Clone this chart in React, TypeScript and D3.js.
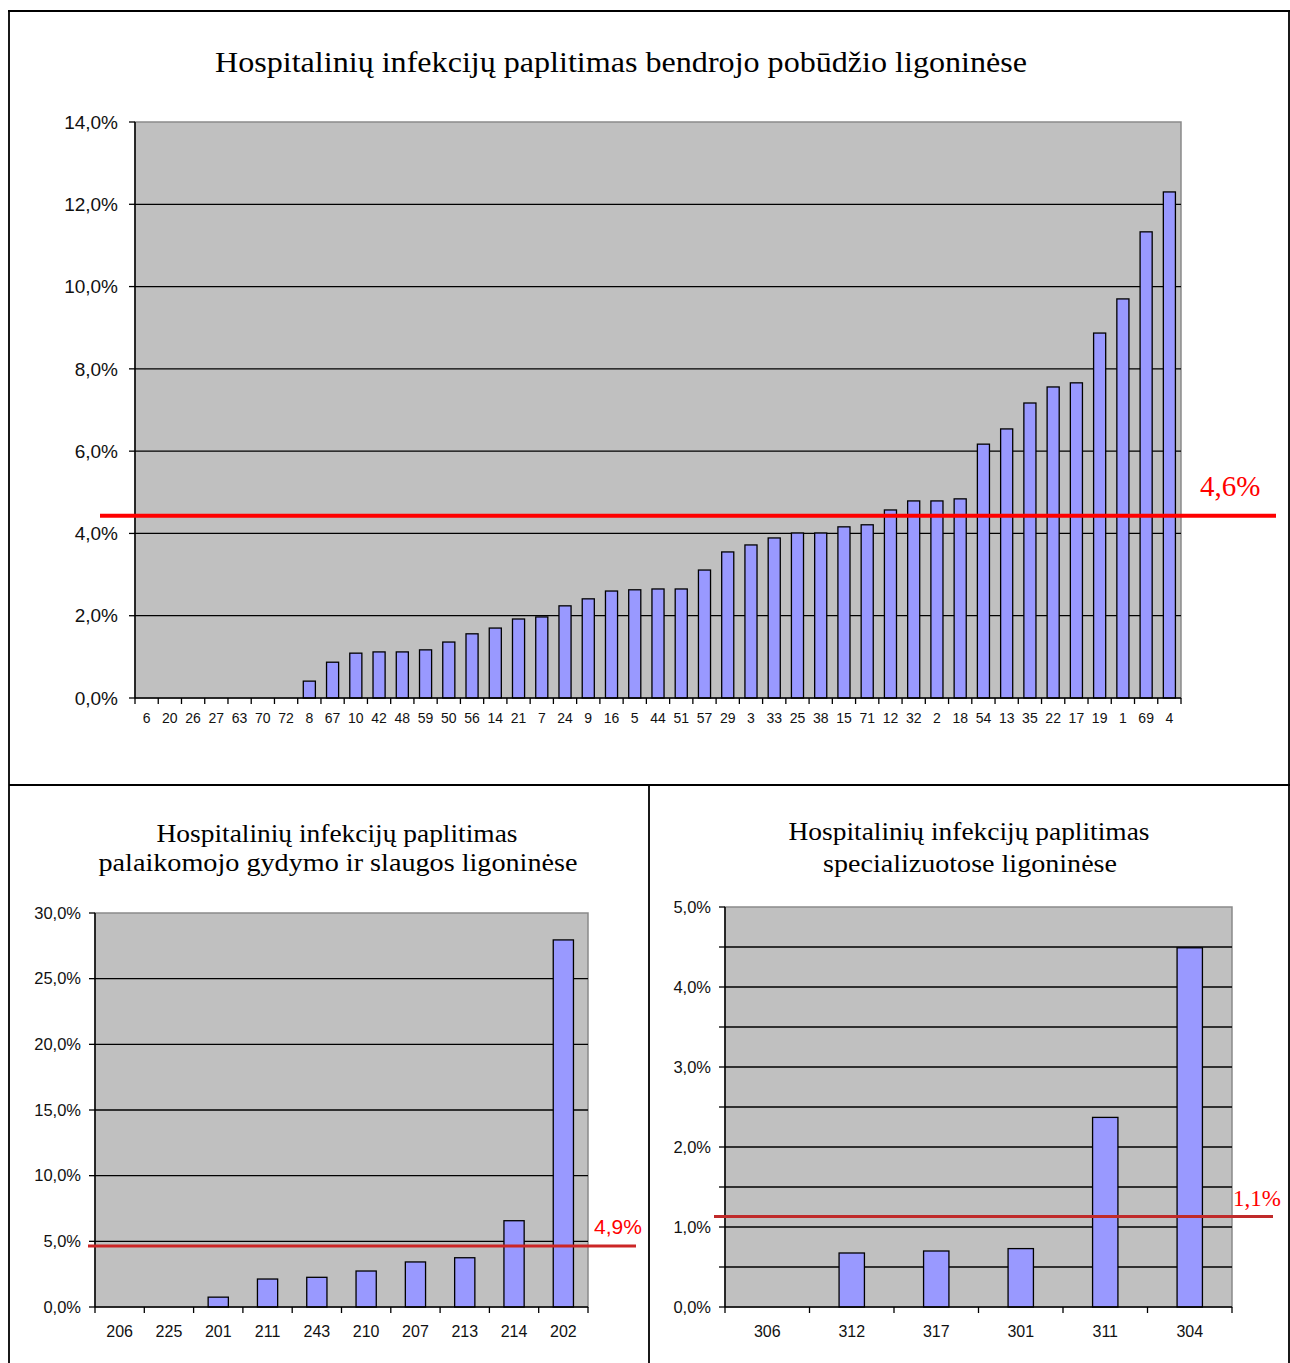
import * as d3 from 'd3';
import React from 'react';

// bendrojo pobūdžio ligoninės
const generalHospitals = ['6', '20', '26', '27', '63', '70', '72', '8', '67', '10', '42', '48', '59', '50', '56', '14', '21', '7', '24', '9', '16', '5', '44', '51', '57', '29', '3', '33', '25', '38', '15', '71', '12', '32', '2', '18', '54', '13', '35', '22', '17', '19', '1', '69', '4'];
const generalRates = [0, 0, 0, 0, 0, 0, 0, 0.41, 0.87, 1.09, 1.12, 1.12, 1.17, 1.36, 1.56, 1.7, 1.92, 1.97, 2.24, 2.41, 2.6, 2.63, 2.65, 2.65, 3.11, 3.55, 3.72, 3.89, 4.01, 4.01, 4.16, 4.21, 4.57, 4.79, 4.79, 4.84, 6.17, 6.54, 7.17, 7.56, 7.66, 8.87, 9.7, 11.33, 12.3];
const generalTicks = [0, 2, 4, 6, 8, 10, 12, 14];

// palaikomojo gydymo ir slaugos ligoninės
const nursingHospitals = ['206', '225', '201', '211', '243', '210', '207', '213', '214', '202'];
const nursingRates = [0, 0, 0.75, 2.13, 2.26, 2.74, 3.43, 3.75, 6.57, 27.95];
const nursingTicks = [0, 5, 10, 15, 20, 25, 30];

// specializuotos ligoninės
const specialHospitals = ['306', '312', '317', '301', '311', '304'];
const specialRates = [0, 0.675, 0.7, 0.73, 2.37, 4.49];
const specialTicks = [0, 0.5, 1, 1.5, 2, 2.5, 3, 3.5, 4, 4.5, 5];

// vidurkio linijos (label, drawn position)
const averages = [
  { label: '4,6%', at: 4.43 },
  { label: '4,9%', at: 4.65 },
  { label: '1,1%', at: 1.13 },
];

const fmt = (v: number) => d3.format('.1f')(v).replace('.', ',') + '%';

interface IPanel {
  categories: string[];
  values: number[];
  ticks: number[];
  labelEvery?: number;
  box: { x0: number; x1: number; y0: number; y1: number };
  pad: number;
  yFont: number;
  xFont: number;
  xLabelY: number;
  yLabelGap: number;
  avg: { label: string; at: number };
  avgLine: { x0: number; x1: number; width: number; color: string };
  avgText: { x: number; y: number; size: number; family: string };
}

const BarPanel: React.FC<IPanel> = ({ categories, values, ticks, labelEvery = 1, box, pad, yFont, xFont, xLabelY, yLabelGap, avg, avgLine, avgText }) => {
  const x = d3.scaleBand().domain(categories).range([box.x0, box.x1]).paddingInner(pad).paddingOuter(pad / 2);
  const y = d3.scaleLinear().domain([0, d3.max(ticks) as number]).range([box.y1, box.y0]);
  const step = x.step();
  const sans = 'Liberation Sans, Arial, sans-serif';
  return (
    <g>
      <rect x={box.x0} y={box.y0} width={box.x1 - box.x0} height={box.y1 - box.y0} fill="#c0c0c0" stroke="#8a8a8a" strokeWidth={1.5} />
      {ticks.slice(1, -1).map(t => (
        <line key={'g' + t} x1={box.x0} x2={box.x1} y1={y(t)} y2={y(t)} stroke="#000" strokeWidth={1.3} />
      ))}
      {categories.map((c, i) =>
        values[i] > 0 ? (
          <rect key={'b' + c} x={x(c)} y={y(values[i])} width={x.bandwidth()} height={box.y1 - y(values[i])} fill="#9999ff" stroke="#000" strokeWidth={1.3} />
        ) : null
      )}
      <line x1={box.x0} x2={box.x0} y1={box.y0} y2={box.y1} stroke="#000" strokeWidth={1.5} />
      <line x1={box.x0} x2={box.x1} y1={box.y1} y2={box.y1} stroke="#000" strokeWidth={1.5} />
      {ticks.map((t, i) => (
        <g key={'t' + t}>
          <line x1={box.x0 - 6} x2={box.x0} y1={y(t)} y2={y(t)} stroke="#000" strokeWidth={1.3} />
          {i % labelEvery === 0 ? (
            <text x={box.x0 - yLabelGap} y={y(t)} dy="0.35em" textAnchor="end" fontSize={yFont} fontFamily={sans} fill="#111">
              {fmt(t)}
            </text>
          ) : null}
        </g>
      ))}
      {d3.range(categories.length + 1).map(i => (
        <line key={'xt' + i} x1={box.x0 + i * step} x2={box.x0 + i * step} y1={box.y1} y2={box.y1 + 6} stroke="#000" strokeWidth={1.3} />
      ))}
      {categories.map(c => (
        <text key={'xl' + c} x={(x(c) as number) + x.bandwidth() / 2} y={xLabelY} textAnchor="middle" fontSize={xFont} fontFamily={sans} fill="#111">
          {c}
        </text>
      ))}
      <line x1={avgLine.x0} x2={avgLine.x1} y1={y(avg.at)} y2={y(avg.at)} stroke={avgLine.color} strokeWidth={avgLine.width} />
      <text x={avgText.x} y={avgText.y} fontSize={avgText.size} fontFamily={avgText.family} fill="#ff0000">
        {avg.label}
      </text>
    </g>
  );
};

const serif = 'Liberation Serif, Times New Roman, serif';

export default function App() {
  return (
    <svg width={1290} height={1363} style={{ position: 'absolute', left: 0, top: 0, background: '#fff' }}>
      {/* rėmeliai */}
      <g stroke="#000" strokeWidth={1.8} fill="none">
        <line x1={8} x2={1290} y1={11} y2={11} />
        <line x1={9} x2={9} y1={11} y2={1363} />
        <line x1={1289} x2={1289} y1={11} y2={1363} />
        <line x1={9} x2={1290} y1={785} y2={785} />
        <line x1={649} x2={649} y1={785} y2={1363} />
      </g>

      <text x={621} y={72} textAnchor="middle" fontSize={29} fontFamily={serif} textLength={812} lengthAdjust="spacingAndGlyphs">
        Hospitalinių infekcijų paplitimas bendrojo pobūdžio ligoninėse
      </text>
      <BarPanel
        categories={generalHospitals}
        values={generalRates}
        ticks={generalTicks}
        box={{ x0: 135, x1: 1181, y0: 122, y1: 698 }}
        pad={0.48}
        yFont={19}
        xFont={14}
        xLabelY={723}
        yLabelGap={17}
        avg={averages[0]}
        avgLine={{ x0: 100, x1: 1276, width: 4, color: '#ff0000' }}
        avgText={{ x: 1200, y: 496, size: 29, family: serif }}
      />

      <text textAnchor="middle" fontSize={26} fontFamily={serif}>
        <tspan x={337} y={842} textLength={361} lengthAdjust="spacingAndGlyphs">Hospitalinių infekcijų paplitimas</tspan>
        <tspan x={338} y={871} textLength={479} lengthAdjust="spacingAndGlyphs">palaikomojo gydymo ir slaugos ligoninėse</tspan>
      </text>
      <BarPanel
        categories={nursingHospitals}
        values={nursingRates}
        ticks={nursingTicks}
        box={{ x0: 95, x1: 588, y0: 913, y1: 1307 }}
        pad={0.59}
        yFont={16.5}
        xFont={16}
        xLabelY={1337}
        yLabelGap={14}
        avg={averages[1]}
        avgLine={{ x0: 88, x1: 636, width: 3, color: '#cc2626' }}
        avgText={{ x: 594, y: 1234, size: 21, family: 'Liberation Sans, Arial, sans-serif' }}
      />

      <text textAnchor="middle" fontSize={26} fontFamily={serif}>
        <tspan x={969} y={840} textLength={361} lengthAdjust="spacingAndGlyphs">Hospitalinių infekcijų paplitimas</tspan>
        <tspan x={970} y={872} textLength={294} lengthAdjust="spacingAndGlyphs">specializuotose ligoninėse</tspan>
      </text>
      <BarPanel
        categories={specialHospitals}
        values={specialRates}
        ticks={specialTicks}
        labelEvery={2}
        box={{ x0: 725, x1: 1232, y0: 907, y1: 1307 }}
        pad={0.7}
        yFont={16.5}
        xFont={16}
        xLabelY={1337}
        yLabelGap={14}
        avg={averages[2]}
        avgLine={{ x0: 714, x1: 1273, width: 3, color: '#c02a2a' }}
        avgText={{ x: 1233, y: 1206, size: 23, family: serif }}
      />
    </svg>
  );
}
